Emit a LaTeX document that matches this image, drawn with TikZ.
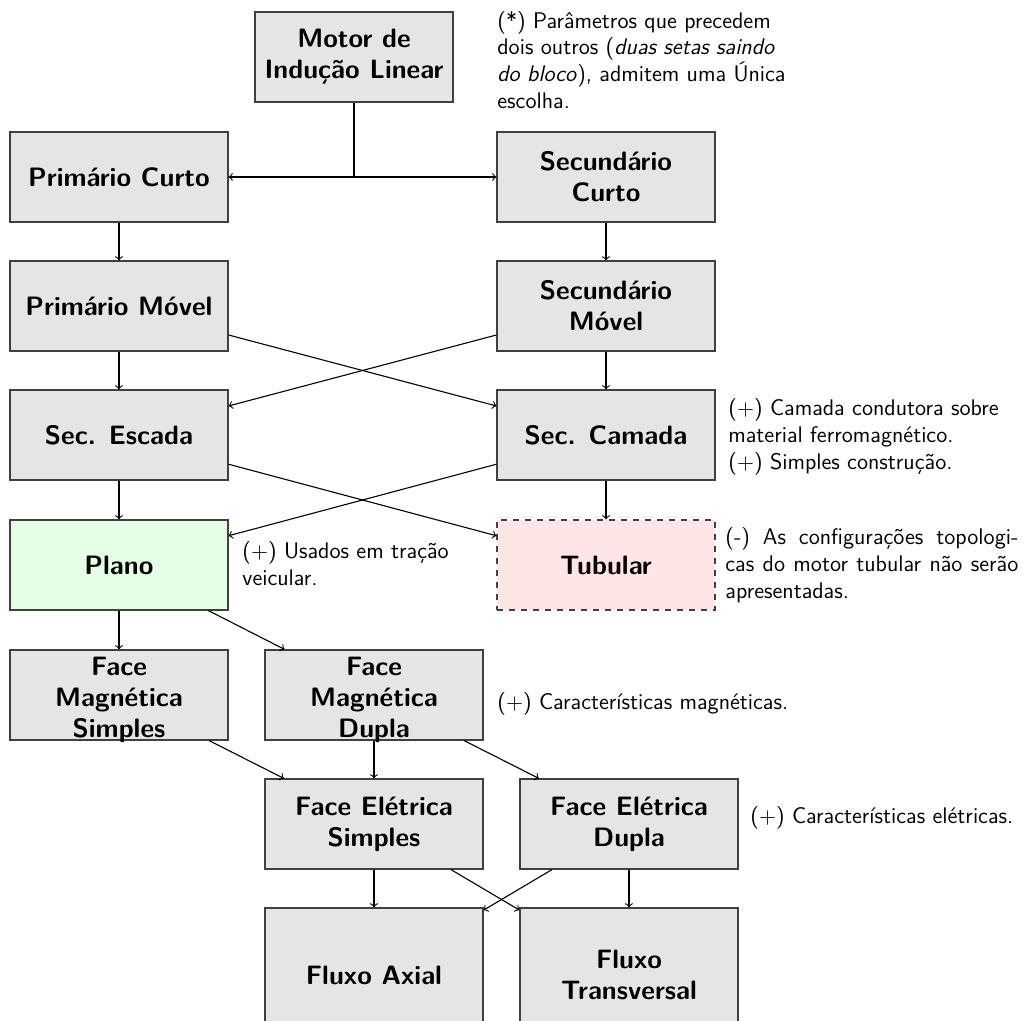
\documentclass[tikz,border=0pt]{standalone}
\usetikzlibrary{calc}
\newcommand\lowerline[1]{\raisebox{-2.2pt}[\height][\depth]{#1}}
\begin{document}
\begin{tikzpicture}[x=0.5pt,y=-0.5pt,
  blk/.style={draw=black!75,semithick,fill=gray!20,minimum width=109pt,minimum height=45pt,inner xsep=2pt,inner ysep=0pt,align=center,font=\sffamily\bfseries\fontsize{13.3}{15.5}\selectfont},
  blkg/.style={blk,fill=green!10},
  blkr/.style={blk,fill=red!10,dashed},
  blkt/.style={blk,minimum height=67pt},
  note/.style={anchor=west,inner sep=0pt,align=left,font=\sffamily\fontsize{11.3}{13.4}\selectfont},
  arr/.style={->,line width=0.55pt}]
\useasboundingbox (0,0) rectangle (1024,1021);
\node[blk,minimum width=99pt] (motor) at (354,57) {Motor de\\Indução Linear};
\node[blk] (pc) at (119,177) {Primário Curto};
\node[blk] (sc) at (606,177) {Secundário\\Curto};
\node[blk] (pm) at (119,306) {Primário Móvel};
\node[blk] (sm) at (606,306) {Secundário\\Móvel};
\node[blk] (se) at (119,435) {Sec. Escada};
\node[blk] (scam) at (606,435) {Sec. Camada};
\node[blkg] (plano) at (119,565) {Plano};
\node[blkr] (tub) at (606,565) {Tubular};
\node[blk] (fms) at (119,695) {\lowerline{Face}\\\lowerline{Magnética}\\\lowerline{Simples}};
\node[blk] (fmd) at (374,695) {\lowerline{Face}\\\lowerline{Magnética}\\\lowerline{Dupla}};
\node[blk] (fes) at (374,824) {Face Elétrica\\Simples};
\node[blk] (fed) at (629,824) {Face Elétrica\\Dupla};
\node[blkt] (fa) at (374,975) {Fluxo Axial};
\node[blkt] (ft) at (629,975) {Fluxo\\Transversal};

\node[note] (n1) at (497,60) {(*) Parâmetros que precedem\\dois outros (\textit{duas setas saindo}\\\textit{do bloco}), admitem uma Única\\escolha.};
\node[note] (n2) at (728,437) {($+$) Camada condutora sobre\\material ferromagnético.\\($+$) Simples construção.};
\node[note] (n3) at (242,564) {($+$) Usados em tração\\veicular.};
\node[note] (n4) at (725,565) {\hbox to 146.5pt{(-) As configurações topologi-}\\\hbox to 146.5pt{cas do motor tubular não serão}\\apresentadas.};
\node[note] (n5) at (497,704) {($+$) Características magnéticas.};
\node[note] (n6) at (750,818) {($+$) Características elétricas.};

\coordinate (j) at (motor.south |- pc.east);
\draw[line width=0.55pt] (motor.south) -- (j);
\draw[arr,<->] (pc.east) -- (sc.west);
\draw[arr] (pc) -- (pm);
\draw[arr] (sc) -- (sm);
\draw[arr] (pm) -- (se);
\draw[arr] (sm) -- (scam);
\draw[arr] (pm) -- (scam);
\draw[arr] (sm) -- (se);
\draw[arr] (se) -- (plano);
\draw[arr] (scam) -- (tub);
\draw[arr] (se) -- (tub);
\draw[arr] (scam) -- (plano);
\draw[arr] (plano) -- (fms);
\draw[arr] (plano) -- (fmd);
\draw[arr] (fms) -- (fes);
\draw[arr] (fmd) -- (fes);
\draw[arr] (fmd) -- (fed);
\draw[arr] (fes) -- (fa.north);
\draw[arr] (fes) -- (ft);
\draw[arr] (fed) -- (fa);
\draw[arr] (fed) -- (ft.north);
\end{tikzpicture}
\end{document}
